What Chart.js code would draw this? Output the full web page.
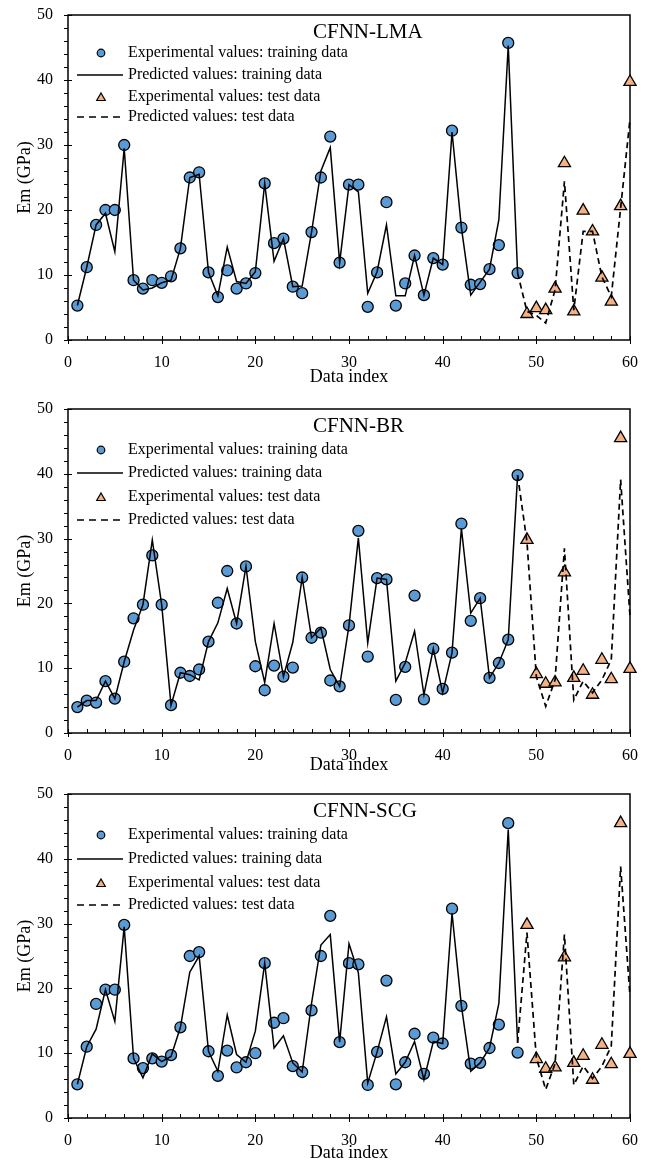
<!DOCTYPE html>
<html>
<head>
<meta charset="utf-8">
<script src="https://cdn.jsdelivr.net/npm/chart.js@4.4.0/dist/chart.umd.min.js"></script>
<style>
  body { margin: 0; background: #fff; }
  .panel { position: relative; width: 646px; height: 388px; }
</style>
</head>
<body>
<div class="panel"><canvas id="chartLMA"></canvas></div>
<div class="panel"><canvas id="chartBR"></canvas></div>
<div class="panel"><canvas id="chartSCG"></canvas></div>
<script>
// data index of each point
const trainIdx = [1, 2, 3, 4, 5, 6, 7, 8, 9, 10, 11, 12, 13, 14, 15, 16, 17, 18, 19, 20, 21, 22, 23, 24,
    25, 26, 27, 28, 29, 30, 31, 32, 33, 34, 35, 36, 37, 38, 39, 40, 41, 42, 43, 44, 45, 46, 47, 48];
const testIdx = [49, 50, 51, 52, 53, 54, 55, 56, 57, 58, 59, 60];
const testLineIdx = [48, 49, 50, 51, 52, 53, 54, 55, 56, 57, 58, 59, 60];

// CFNN-LMA
const lmaTrainExp = [5.3, 11.2, 17.7, 20.0, 20.0, 30.0, 9.2, 7.9, 9.2, 8.8, 9.8, 14.1, 25.0, 25.8, 10.4, 6.6,
    10.7, 7.9, 8.7, 10.3, 24.1, 14.9, 15.6, 8.2, 7.2, 16.6, 25.0, 31.3, 11.9, 23.9, 23.9, 5.1,
    10.4, 21.2, 5.3, 8.7, 13.0, 6.9, 12.6, 11.6, 32.2, 17.3, 8.5, 8.6, 10.9, 14.6, 45.7, 10.3];
const lmaTrainPred = [5.3, 11.2, 17.7, 19.5, 13.6, 29.5, 9.2, 7.7, 8.0, 8.8, 9.2, 14.1, 25.0, 25.5, 10.4, 6.8,
    14.3, 9.0, 8.7, 10.5, 24.1, 12.1, 15.6, 8.2, 8.3, 16.6, 26.0, 29.6, 11.9, 23.9, 22.8, 7.2,
    10.5, 17.7, 6.8, 6.8, 13.0, 6.9, 12.6, 11.6, 32.0, 17.3, 6.9, 8.9, 10.9, 18.5, 45.3, 10.3];
const lmaTestExp = [4.0, 4.9, 4.6, 7.9, 27.2, 4.4, 19.9, 16.7, 9.6, 5.9, 20.6, 39.7];
const lmaTestPred = [10.3, 4.4, 3.8, 2.6, 7.7, 24.4, 4.6, 16.7, 16.7, 9.7, 6.7, 20.3, 34.0];

// CFNN-BR
const brTrainExp = [4.0, 5.0, 4.7, 8.0, 5.3, 11.0, 17.7, 19.8, 27.4, 19.8, 4.3, 9.3, 8.8, 9.8, 14.1, 20.1,
    25.0, 16.9, 25.7, 10.3, 6.6, 10.4, 8.7, 10.1, 24.0, 14.7, 15.5, 8.1, 7.2, 16.6, 31.2, 11.8,
    23.9, 23.7, 5.1, 10.2, 21.2, 5.2, 13.0, 6.8, 12.4, 32.3, 17.3, 20.8, 8.5, 10.8, 14.4, 39.8];
const brTrainPred = [4.0, 5.0, 5.0, 8.0, 5.3, 11.0, 15.9, 19.8, 29.8, 19.8, 4.3, 9.3, 9.0, 8.2, 14.1, 17.0,
    22.3, 16.9, 25.7, 14.1, 7.8, 16.9, 8.7, 14.0, 24.0, 14.7, 16.2, 9.8, 7.2, 16.6, 30.1, 13.9,
    23.9, 23.7, 8.0, 10.8, 15.7, 5.9, 13.0, 6.2, 12.4, 31.6, 18.5, 20.8, 8.5, 10.8, 14.4, 39.8];
const brTestExp = [29.8, 9.1, 7.6, 7.8, 24.8, 8.5, 9.6, 5.9, 11.3, 8.3, 45.5, 9.9];
const brTestPred = [39.8, 29.5, 8.7, 4.1, 8.2, 28.5, 5.1, 8.0, 6.2, 8.2, 11.3, 39.1, 18.0];

// CFNN-SCG
const scgTrainExp = [5.2, 11.0, 17.6, 19.8, 19.8, 29.8, 9.2, 7.7, 9.2, 8.7, 9.7, 14.0, 25.0, 25.6, 10.3, 6.5,
    10.4, 7.8, 8.6, 10.0, 23.9, 14.7, 15.4, 8.0, 7.1, 16.6, 25.0, 31.2, 11.7, 23.9, 23.7, 5.1,
    10.2, 21.2, 5.2, 8.6, 13.0, 6.8, 12.4, 11.5, 32.3, 17.3, 8.4, 8.5, 10.8, 14.4, 45.5, 10.1];
const scgTrainPred = [5.2, 11.0, 13.7, 19.8, 14.9, 29.5, 9.2, 6.2, 9.9, 8.7, 9.5, 14.0, 22.5, 25.0, 10.3, 7.2,
    15.9, 9.8, 8.6, 13.4, 23.9, 10.8, 12.7, 8.5, 7.1, 17.7, 26.7, 28.3, 11.7, 26.9, 22.4, 5.4,
    10.2, 15.6, 6.8, 8.6, 11.8, 5.9, 11.8, 11.5, 31.6, 17.3, 7.2, 8.5, 10.8, 17.7, 44.5, 11.6];
const scgTestExp = [29.8, 9.1, 7.6, 7.8, 24.8, 8.5, 9.6, 5.9, 11.3, 8.3, 45.5, 9.9];
const scgTestPred = [11.6, 28.6, 9.3, 4.4, 8.4, 28.3, 5.1, 8.0, 6.1, 8.0, 11.1, 38.8, 18.8];

const xTicks = { min: 0, max: 60, major: 10, minor: 2 };
const yTicks = { min: 0, max: 50, major: 10, minor: 2 };

const SERIF = "'Liberation Serif', 'Times New Roman', serif";
const BLUE = '#5b9bd5';
const ORANGE = '#f4b183';
const legendLabels = [
    'Experimental values: training data',
    'Predicted values: training data',
    'Experimental values: test data',
    'Predicted values: test data'
];

function pts(idx, vals) {
    return idx.map((x, i) => ({ x: x, y: vals[i] }));
}

// box round the plot area and the tick marks
const framePlugin = {
    id: 'frame',
    beforeDatasetsDraw(chart) {
        const { ctx, chartArea: a, scales: { x, y } } = chart;
        ctx.save();
        ctx.strokeStyle = '#000';
        ctx.lineWidth = 1;
        ctx.beginPath();
        for (let v = xTicks.min; v <= xTicks.max; v += xTicks.minor) {
            const px = Math.round(x.getPixelForValue(v)) + 0.5;
            const major = v % xTicks.major === 0;
            ctx.moveTo(px, a.bottom + (major ? 4 : 0));
            ctx.lineTo(px, a.bottom - 4);
        }
        for (let v = yTicks.min; v <= yTicks.max; v += yTicks.minor) {
            const py = Math.round(y.getPixelForValue(v)) + 0.5;
            const major = v % yTicks.major === 0;
            ctx.moveTo(a.left - 4, py);
            ctx.lineTo(a.left + (major ? 4 : 0), py);
        }
        ctx.stroke();
        ctx.lineWidth = 1.5;
        ctx.strokeRect(a.left, a.top, a.right - a.left, a.bottom - a.top);
        ctx.restore();
    }
};

// model name and the legend inside the plot
const notesPlugin = {
    id: 'notes',
    afterDraw(chart, args, opts) {
        const { ctx, chartArea: a } = chart;
        ctx.save();
        ctx.fillStyle = '#000';
        ctx.textBaseline = 'middle';
        ctx.font = '21px ' + SERIF;
        ctx.fillText(opts.title, 313, a.top + 17);

        ctx.font = '16px ' + SERIF;
        const rows = opts.rows;
        legendLabels.forEach((t, i) => ctx.fillText(t, 128, a.top + rows[i]));

        ctx.strokeStyle = '#000';
        // circle
        ctx.lineWidth = 1.2;
        ctx.beginPath();
        ctx.arc(101, a.top + rows[0], 3.8, 0, Math.PI * 2);
        ctx.fillStyle = BLUE;
        ctx.fill();
        ctx.stroke();
        // solid line
        ctx.lineWidth = 1.5;
        ctx.beginPath();
        ctx.moveTo(77, a.top + rows[1]);
        ctx.lineTo(123, a.top + rows[1]);
        ctx.stroke();
        // triangle
        const ty = a.top + rows[2] + 1;
        ctx.lineWidth = 1.2;
        ctx.beginPath();
        ctx.moveTo(101, ty - 5);
        ctx.lineTo(105.3, ty + 2.5);
        ctx.lineTo(96.7, ty + 2.5);
        ctx.closePath();
        ctx.fillStyle = ORANGE;
        ctx.fill();
        ctx.stroke();
        // dashed line
        ctx.lineWidth = 1.5;
        ctx.setLineDash([7, 5]);
        ctx.beginPath();
        ctx.moveTo(77, a.top + rows[3]);
        ctx.lineTo(123, a.top + rows[3]);
        ctx.stroke();
        ctx.restore();
    }
};

function makePanel(id, title, trainExp, trainPred, testExp, testPred, top, xh, rows) {
    new Chart(document.getElementById(id), {
        type: 'scatter',
        data: {
            datasets: [
                {
                    label: 'Predicted values: training data',
                    data: pts(trainIdx, trainPred),
                    showLine: true,
                    borderColor: '#000',
                    borderWidth: 1.5,
                    pointRadius: 0,
                    clip: false
                },
                {
                    label: 'Predicted values: test data',
                    data: pts(testLineIdx, testPred),
                    showLine: true,
                    borderColor: '#000',
                    borderWidth: 1.7,
                    borderDash: [6, 4],
                    pointRadius: 0,
                    clip: false
                },
                {
                    label: 'Experimental values: training data',
                    data: pts(trainIdx, trainExp),
                    pointStyle: 'circle',
                    pointRadius: 5.5,
                    pointBackgroundColor: BLUE,
                    pointBorderColor: '#000',
                    pointBorderWidth: 1.3,
                    clip: false
                },
                {
                    label: 'Experimental values: test data',
                    data: pts(testIdx, testExp),
                    pointStyle: 'triangle',
                    pointRadius: 7,
                    pointBackgroundColor: ORANGE,
                    pointBorderColor: '#000',
                    pointBorderWidth: 1.3,
                    clip: false
                }
            ]
        },
        options: {
            responsive: true,
            maintainAspectRatio: false,
            animation: false,
            events: [],
            layout: { padding: { left: 0, right: 16, top: top, bottom: 0 } },
            scales: {
                x: {
                    type: 'linear',
                    min: xTicks.min,
                    max: xTicks.max,
                    grid: { display: false, drawTicks: false },
                    border: { display: false },
                    ticks: { stepSize: xTicks.major, color: '#000', padding: 13, maxRotation: 0,
                        font: { family: SERIF, size: 16 } },
                    title: { display: true, text: 'Data index', color: '#000',
                        font: { family: SERIF, size: 18 }, padding: { top: 0, bottom: 0 } },
                    afterFit(s) {
                        s.height = xh;
                        s.paddingLeft = 0;
                        s.paddingRight = 0;
                    }
                },
                y: {
                    min: yTicks.min,
                    max: yTicks.max,
                    grid: { display: false, drawTicks: false },
                    border: { display: false },
                    ticks: { stepSize: yTicks.major, color: '#000', padding: 15,
                        font: { family: SERIF, size: 16 } },
                    title: { display: true, text: 'Em (GPa)', color: '#000',
                        font: { family: SERIF, size: 18 }, padding: { top: 14, bottom: 0 } },
                    afterFit(s) {
                        s.width = 68;
                        s.paddingTop = 0;
                        s.paddingBottom = 0;
                    }
                }
            },
            plugins: {
                legend: { display: false },
                tooltip: { enabled: false },
                notes: { title: title, rows: rows }
            }
        },
        plugins: [framePlugin, notesPlugin]
    });
}

makePanel('chartLMA', 'CFNN-LMA', lmaTrainExp, lmaTrainPred, lmaTestExp, lmaTestPred, 15, 48, [38, 60, 82, 102]);
makePanel('chartBR', 'CFNN-BR', brTrainExp, brTrainPred, brTestExp, brTestPred, 21, 43, [41, 64, 88, 111]);
makePanel('chartSCG', 'CFNN-SCG', scgTrainExp, scgTrainPred, scgTestExp, scgTestPred, 18, 46, [41, 65, 89, 111]);
</script>
</body>
</html>
